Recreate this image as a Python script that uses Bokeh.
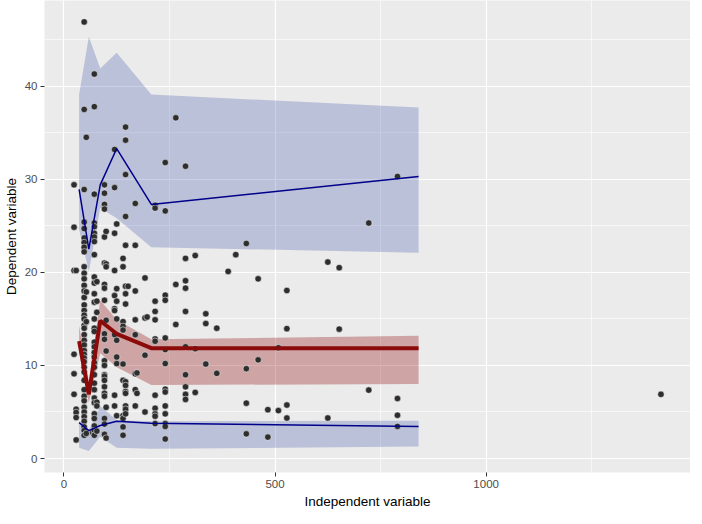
from bokeh.plotting import figure
from bokeh.models import Range1d, FixedTicker
from bokeh.embed import file_html
from bokeh.resources import INLINE

# quantile band knots (x) and values
band_x = [36, 59, 86, 125, 207, 840]
q90 = [28.9, 22.5, 29.4, 33.3, 27.3, 30.3]
q90_hi = [39.1, 45.3, 41.9, 43.6, 39.1, 37.7]
q90_lo = [24.6, 20.1, 26.9, 25.8, 22.7, 22.1]
q50 = [12.6, 6.9, 14.8, 13.4, 11.85, 11.85]
q50_hi = [14.3, 8.3, 17.0, 14.9, 12.8, 13.2]
q50_lo = [11.4, 6.0, 11.3, 9.8, 7.9, 8.0]
q10 = [3.85, 3.0, 3.55, 4.0, 3.8, 3.45]
q10_hi = [4.0, 3.1, 5.65, 4.1, 4.0, 4.06]
q10_lo = [1.15, 0.8, 2.35, 1.15, 1.05, 1.28]

# observations
obs_x = [
    24, 24, 24, 24, 24, 24,
    29, 29, 29, 29, 29,
    48, 48, 48, 48, 48, 48, 48, 48, 48, 48,
    48, 48, 48, 48, 48, 48, 48, 48, 48, 48,
    48, 48, 48, 48, 48, 48, 48, 48, 48, 48,
    48, 48, 48, 48, 48, 48, 48, 48, 48, 48,
    48,
    53, 53, 53, 53,
    68,
    72, 72, 72, 72, 72, 72, 72, 72, 72, 72,
    72, 72, 72, 72, 72, 72, 72, 72, 72, 72,
    72, 72, 72, 72, 72, 72, 72, 72, 72, 72,
    72, 72,
    78, 78, 78, 78, 78, 78,
    96, 96, 96, 96, 96, 96, 96, 96, 96, 96,
    96, 96, 96, 96, 96, 96, 96, 96, 96, 96,
    96, 96,
    100, 100, 100, 100, 100, 100, 100,
    120, 120, 120, 120, 120, 120, 120, 120, 120, 120,
    125, 125, 125, 125, 125, 125, 125, 125,
    140, 140, 140, 140, 140, 140, 140, 140, 140, 140, 140,
    146, 146, 146, 146, 146, 146, 146, 146, 146, 146, 146, 146, 146, 146, 146,
    152,
    169, 169, 169, 169, 169, 169, 169, 169,
    173, 173,
    192, 192, 192, 192,
    197,
    216, 216, 216, 216, 216, 216, 216, 216, 216, 216, 216, 216,
    240, 240, 240, 240, 240, 240, 240, 240, 240, 240, 240, 240, 240, 240,
    265, 265, 265,
    288, 288, 288, 288, 288, 288, 288, 288, 288, 288,
    311, 311, 311,
    336, 336, 336,
    362, 362,
    389,
    407,
    432, 432, 432, 432,
    460, 460,
    483, 483,
    508, 508,
    528, 528, 528, 528,
    625, 625,
    652, 652,
    722, 722,
    790, 790, 790, 790,
    1414,
]
obs_y = [
    29.4, 24.85, 20.2, 11.2, 9.1, 6.9,
    20.2, 5.3, 4.95, 4.4, 2.0,
    46.9, 37.5, 28.9, 25.4, 24.7, 23.7, 23.2, 22.7, 22.2, 20.6,
    19.9, 19.3, 18.6, 18.0, 17.3, 16.5, 15.9, 15.4, 15.0, 14.3,
    14.0, 13.3, 12.7, 12.2, 11.6, 11.2, 10.8, 10.4, 9.8, 9.3,
    8.4, 7.4, 6.7, 6.2, 5.5, 5.0, 4.5, 4.0, 3.4, 3.0,
    2.5,
    34.5, 17.9, 14.7, 2.7,
    2.8,
    41.3, 37.8, 28.4, 25.3, 24.9, 24.2, 23.8, 23.3, 21.9, 19.5,
    18.85, 17.7, 16.8, 15.0, 14.0, 13.65, 12.5, 12.0, 11.4, 10.9,
    10.3, 9.8, 9.0, 8.1, 7.4, 6.5, 6.0, 4.8, 4.3, 3.5,
    3.0, 2.5,
    19.0, 16.9, 15.7, 6.05, 5.65, 2.95,
    29.4, 28.5, 27.3, 26.8, 23.8, 21.0, 18.7, 18.3, 17.0, 13.4,
    12.8, 10.5, 10.0, 9.0, 8.85, 8.4, 7.7, 7.0, 6.7, 4.3,
    3.7, 2.6,
    24.4, 20.9, 20.6, 14.85, 11.55, 5.5, 2.2,
    33.2, 29.1, 24.2, 20.2, 17.5, 16.1, 15.9, 13.3, 6.8, 5.65,
    25.2, 18.25, 16.9, 15.0, 12.7, 10.9, 10.2, 4.6,
    21.5, 20.6, 14.7, 14.2, 13.8, 10.15, 8.4, 4.6, 4.3, 3.4, 2.5,
    35.6, 34.2, 30.5, 26.0, 22.9, 18.5, 17.7, 16.6, 8.25, 7.85, 7.2, 7.0, 5.65, 5.3, 4.8,
    18.5,
    27.4, 22.9, 18.0, 14.9, 13.3, 9.1, 7.4, 5.65,
    9.2, 7.0,
    19.4, 15.1, 11.1, 5.0,
    15.2,
    27.2, 26.9, 16.9, 15.8, 14.9, 12.85, 12.6, 6.8, 5.4, 4.8, 4.55, 3.75,
    31.8, 26.6, 17.55, 17.0, 12.95, 11.7, 10.2, 7.45, 7.15, 5.65, 4.8, 3.75, 3.45, 2.1,
    36.6, 18.7, 14.4,
    31.4, 21.5, 19.1, 18.3, 15.8, 12.0, 9.0, 7.7, 6.9, 6.35,
    21.8, 11.8, 7.1,
    15.55, 14.5, 10.15,
    14.0, 9.15,
    20.1,
    21.9,
    23.1, 9.65, 5.95, 2.65,
    19.3, 10.6,
    5.25, 2.3,
    11.9, 5.15,
    18.05, 13.95, 5.75, 4.35,
    21.1, 4.35,
    20.5, 13.9,
    25.3, 7.35,
    30.3, 6.45, 4.65, 3.45,
    6.9,
]

x_ticks = [0, 500, 1000]
x_minor = [250, 750, 1250]
y_ticks = [0, 10, 20, 30, 40]
y_minor = [5, 15, 25, 35, 45]

FONT = "Liberation Sans"

p = figure(frame_width=646, frame_height=472, output_backend="svg", toolbar_location=None,
           x_range=Range1d(-46, 1484), y_range=Range1d(-1.5, 49.2),
           background_fill_color="#EBEBEB", border_fill_color="white",
           min_border_left=0, min_border_right=0, min_border_top=0, min_border_bottom=0)
p.outline_line_color = None

p.xaxis.ticker = FixedTicker(ticks=x_ticks, minor_ticks=x_minor)
p.yaxis.ticker = FixedTicker(ticks=y_ticks, minor_ticks=y_minor)

p.grid.grid_line_color = "white"
p.grid.grid_line_width = 1.2
p.grid.minor_grid_line_color = "white"
p.grid.minor_grid_line_width = 0.6

p.axis.axis_line_color = None
p.axis.major_tick_line_color = "#333333"
p.axis.major_tick_out = 4
p.axis.major_tick_in = 0
p.axis.minor_tick_line_color = None
p.axis.major_label_text_color = "#4D4D4D"
p.axis.major_label_text_font = FONT
p.axis.major_label_text_font_size = "11.5px"
p.axis.major_label_standoff = 3

p.xaxis.axis_label = "Independent variable"
p.yaxis.axis_label = "Dependent variable"
p.axis.axis_label_text_font = FONT
p.axis.axis_label_text_font_style = "normal"
p.axis.axis_label_text_color = "black"
p.axis.axis_label_text_font_size = "13.5px"
p.axis.axis_label_standoff = 3

# ribbons
p.varea(x=band_x, y1=q90_lo, y2=q90_hi, fill_color="#2A45A0", fill_alpha=0.25)
p.varea(x=band_x, y1=q10_lo, y2=q10_hi, fill_color="#2A45A0", fill_alpha=0.25)
p.varea(x=band_x, y1=q50_lo, y2=q50_hi, fill_color="#8B0000", fill_alpha=0.3)

# points
p.scatter(obs_x, obs_y, size=6.5, fill_color="#2E2E2E", line_color="white",
          line_width=0.6, line_alpha=0.85)

# quantile lines
p.line(band_x, q90, line_color="#00008B", line_width=1.5)
p.line(band_x, q10, line_color="#00008B", line_width=1.5)
p.line(band_x, q50, line_color="#8B0A0A", line_width=4)

open("out.html", "w").write(file_html(p, INLINE))
